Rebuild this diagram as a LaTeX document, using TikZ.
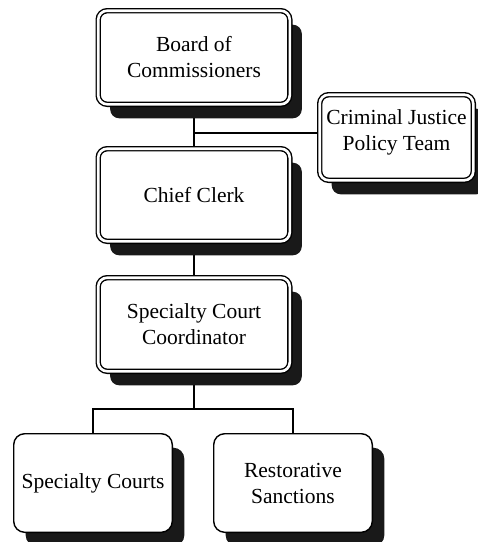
\documentclass[tikz,border=0pt]{standalone}
\usepackage{fontspec}
\setmainfont{Liberation Serif}
\usetikzlibrary{shadows,backgrounds}

\begin{document}
\begin{tikzpicture}[x=1pt,y=1pt,
  every node/.style={font=\fontsize{21.5}{26}\selectfont, align=center, inner sep=1pt},
  boxshadow/.style={drop shadow={shadow xshift=12pt, shadow yshift=-14pt, fill=black!90, opacity=1}},
  dblbox/.style={draw, line width=1.4pt, double=white, double distance=2.6pt,
    rounded corners=9pt, fill=white, boxshadow},
  onebox/.style={draw, line width=1.4pt, rounded corners=11pt, fill=white,
    minimum width=158.6pt, minimum height=98.6pt, boxshadow},
  link/.style={draw, line width=1.3pt}]

\useasboundingbox (0,0) rectangle (478,-542);

% the chain of office
\node[dblbox, minimum width=191.6pt, minimum height=93.6pt] (board) at (194,-57.5) {Board of\\Commissioners};
\node[dblbox, minimum width=191.6pt, minimum height=92.6pt] (chief) at (194,-195) {Chief Clerk};
\node[dblbox, minimum width=191.6pt, minimum height=93.6pt] (scc) at (194,-324.5) {Specialty Court\\Coordinator};
\node[dblbox, minimum width=153.6pt, minimum height=85.6pt, text depth=14pt] (cj) at (396.5,-137.5) {Criminal Justice\\Policy Team};

% programmes under the coordinator
\node[onebox] (sc) at (93,-483) {Specialty Courts};
\node[onebox] (rs) at (293,-483) {Restorative\\Sanctions};

% junction points
\coordinate (j1) at (194,-133);
\coordinate (j2) at (194,-409);

\begin{scope}[on background layer]
  \path[link] (board.south) -- (chief.north);
  \path[link] (j1) -- (j1 -| cj.west);
  \path[link] (chief.south) -- (scc.north);
  \path[link] (scc.south) -- (j2);
  \path[link] (sc.north) |- (j2) -| (rs.north);
\end{scope}
\end{tikzpicture}
\end{document}
